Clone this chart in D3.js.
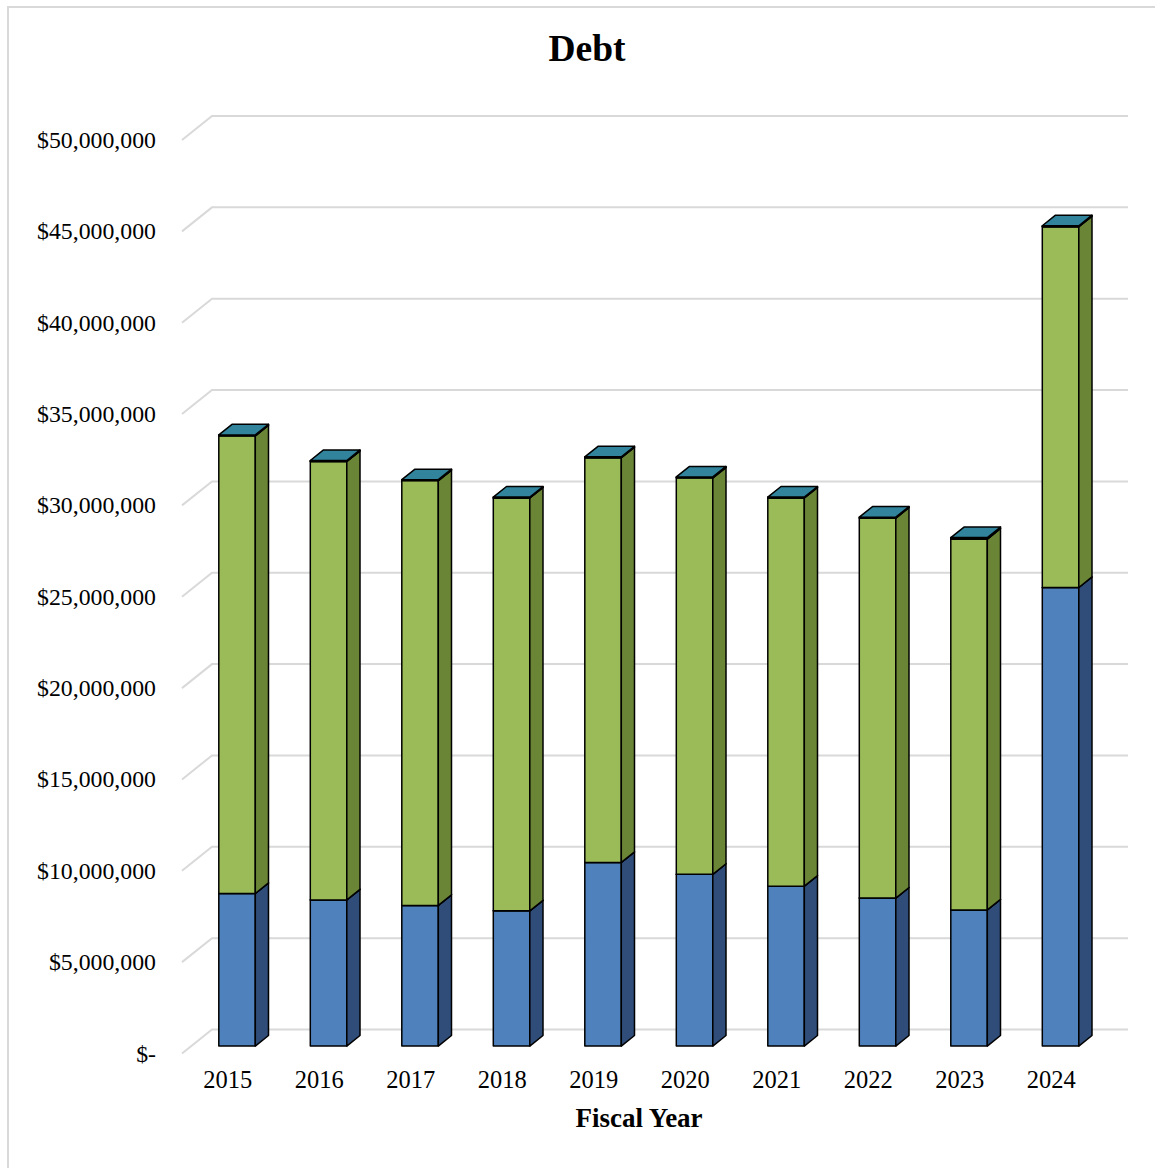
<!DOCTYPE html>
<html>
<head>
<meta charset="utf-8">
<title>Debt</title>
<script src="https://cdn.jsdelivr.net/npm/d3@7/dist/d3.min.js"></script>
<style>
  html, body { margin: 0; padding: 0; background: #ffffff; }
  svg { display: block; font-family: "Liberation Serif", "Times New Roman", serif; }
</style>
</head>
<body>
<script>
// Fiscal years on the category axis
const years = ["2015", "2016", "2017", "2018", "2019", "2020", "2021", "2022", "2023", "2024"];

// Stacked debt components (dollars), bottom to top
const seriesBottom = [8.35e6, 8.0e6, 7.7e6, 7.4e6, 10.05e6, 9.4e6, 8.75e6, 8.1e6, 7.45e6, 25.1e6];
const seriesMiddle = [25.05e6, 24.0e6, 23.25e6, 22.6e6, 22.15e6, 21.7e6, 21.25e6, 20.8e6, 20.3e6, 19.75e6];
const seriesTop    = [0.05e6, 0.05e6, 0.05e6, 0.05e6, 0.05e6, 0.05e6, 0.05e6, 0.05e6, 0.08e6, 0.05e6];

// Value axis ticks
const yTicks = [0, 5e6, 10e6, 15e6, 20e6, 25e6, 30e6, 35e6, 40e6, 45e6, 50e6];

const W = 1155, H = 1168;
const svg = d3.select("body").append("svg").attr("width", W).attr("height", H);

// Outer chart frame
svg.append("rect")
  .attr("x", 8).attr("y", 7).attr("width", W + 10).attr("height", H + 10)
  .attr("fill", "none").attr("stroke", "#d9d9d9").attr("stroke-width", 2);

// Front plane scales; depth is an oblique offset toward the back wall
const x = d3.scaleBand().domain(years).range([182, 1097]);
const y = d3.scaleLinear().domain([0, 50e6]).range([1053.5, 140]);
const DX = 30, DY = 24;
const proj = (px, v, z) => [px + z * DX, y(v) - z * DY];

// Gridlines: side wall diagonal + back wall horizontal
const grid = svg.append("g");
yTicks.forEach(t => {
  const a = proj(x.range()[0], t, 0);
  const b = proj(x.range()[0], t, 1);
  const c = proj(x.range()[1], t, 1);
  grid.append("path")
    .attr("d", `M${a[0]},${a[1]}L${b[0]},${b[1]}L${c[0] + 1},${c[1]}`)
    .attr("fill", "none").attr("stroke", "#d9d9d9").attr("stroke-width", 2);
});

// Y tick labels
const fmt = d3.format(",.0f");
svg.append("g").selectAll("text").data(yTicks).join("text")
  .attr("x", 156)
  .attr("y", d => y(d) + 8)
  .attr("text-anchor", "end")
  .attr("font-size", "23.8px")
  .attr("fill", "#000")
  .text(d => d === 0 ? "$-" : "$" + fmt(d));

// Stack the components
const keys = ["bottom", "middle", "top"];
const rows = years.map((yr, i) => ({ year: yr, bottom: seriesBottom[i], middle: seriesMiddle[i], top: seriesTop[i] }));
const stacked = d3.stack().keys(keys)(rows);

const colors = {
  bottom: { front: "#4f81bd", side: "#2f4d78", top: "#6f98cc" },
  middle: { front: "#9bbb59", side: "#6a8536", top: "#b4cf7a" },
  top:    { front: "#31849b", side: "#215f70", top: "#31849b" }
};

const barW = 36.5, z0 = 0.31, z1 = 0.75;
const poly = pts => "M" + pts.map(p => p.join(",")).join("L") + "Z";

const bars = svg.append("g").attr("stroke", "#000").attr("stroke-width", 1.5).attr("stroke-linejoin", "round");
years.forEach((yr, i) => {
  const cx = x(yr) + x.bandwidth() / 2;
  const xl = cx - barW / 2, xr = cx + barW / 2;
  stacked.forEach(s => {
    const [lo, hi] = s[i];
    const c = colors[s.key];
    const g = bars.append("g");
    // front face
    g.append("path").attr("fill", c.front)
      .attr("d", poly([proj(xl, lo, z0), proj(xr, lo, z0), proj(xr, hi, z0), proj(xl, hi, z0)]));
    // right side face
    g.append("path").attr("fill", c.side)
      .attr("d", poly([proj(xr, lo, z0), proj(xr, lo, z1), proj(xr, hi, z1), proj(xr, hi, z0)]));
    // top face
    g.append("path").attr("fill", c.top)
      .attr("d", poly([proj(xl, hi, z0), proj(xr, hi, z0), proj(xr, hi, z1), proj(xl, hi, z1)]));
  });
});

// Category labels
svg.append("g").selectAll("text").data(years).join("text")
  .attr("x", d => x(d) + x.bandwidth() / 2)
  .attr("y", 1088)
  .attr("text-anchor", "middle")
  .attr("font-size", "24.5px")
  .attr("fill", "#000")
  .text(d => d);

// Titles
svg.append("text")
  .attr("x", 587).attr("y", 61)
  .attr("text-anchor", "middle")
  .attr("font-size", "37.5px").attr("font-weight", "bold")
  .text("Debt");

svg.append("text")
  .attr("x", 639).attr("y", 1127)
  .attr("text-anchor", "middle")
  .attr("font-size", "27px").attr("font-weight", "bold")
  .text("Fiscal Year");
</script>
</body>
</html>
